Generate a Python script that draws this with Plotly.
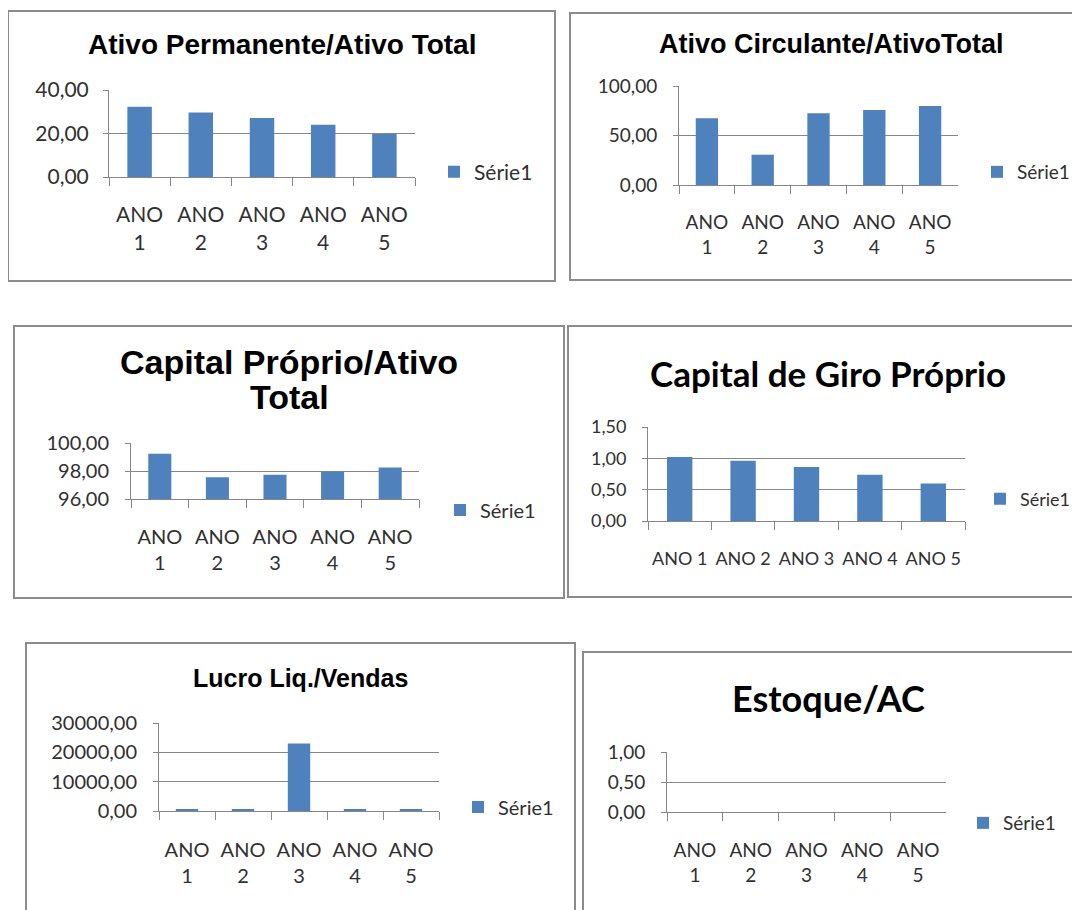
import plotly.graph_objects as go

W, H = 1080, 910
OFF = 8  # the page body margin places the figure 8px right and down

# ---------------- data ----------------
categorias = ["ANO 1", "ANO 2", "ANO 3", "ANO 4", "ANO 5"]
rotulos_duas_linhas = ["ANO<br>1", "ANO<br>2", "ANO<br>3", "ANO<br>4", "ANO<br>5"]
rotulos_uma_linha = ["ANO 1", "ANO 2", "ANO 3", "ANO 4", "ANO 5"]
serie_nome = "Série1"

ativo_permanente_total = [32.3, 29.7, 27.1, 24.0, 19.8]
ativo_circulante_total = [67.3, 30.6, 72.4, 75.8, 79.8]
capital_proprio_total = [99.24, 97.56, 97.73, 97.96, 98.25]
capital_giro_proprio = [1.02, 0.96, 0.86, 0.74, 0.60]
lucro_liq_vendas = [550, 550, 23000, 550, 550]
estoque_ac = [0, 0, 0, 0, 0]

titulos = ["Ativo Permanente/Ativo Total", "Ativo Circulante/AtivoTotal",
           ["Capital Próprio/Ativo", "Total"], "Capital de Giro Próprio",
           "Lucro Liq./Vendas", "Estoque/AC"]

# ---------------- layout of panels (pixels) ----------------
ARIAL = "Liberation Sans, Arial, sans-serif"
CALIBRI = "Lato, Carlito, Calibri, sans-serif"
BAR = "#4F81BD"
GRID = "#868686"
TXT = "#303030"

paineis = [
    dict(valores=ativo_permanente_total, titulo=titulos[0], tfont=ARIAL, tsize=28, ty=[45], tx=282,
         box=(8, 11, 555, 281), plot=(109, 90, 415, 177), rng=[0, 40], dtick=20,
         rot=rotulos_duas_linhas, fs=21, xstand=19, ystand=10, leg=(452, 172)),
    dict(valores=ativo_circulante_total, titulo=titulos[1], tfont=ARIAL, tsize=27, ty=[44], tx=831,
         box=(570, 13, 1090, 280), plot=(679, 86, 958, 185), rng=[0, 100], dtick=50,
         rot=rotulos_duas_linhas, fs=19, xstand=20, ystand=12, leg=(995, 172)),
    dict(valores=capital_proprio_total, titulo=titulos[2], tfont=ARIAL, tsize=34, ty=[362, 397], tx=289,
         box=(14, 326, 564, 598), plot=(131, 443, 419, 499), rng=[96, 100], dtick=2,
         rot=rotulos_duas_linhas, fs=20, xstand=20, ystand=12, leg=(458, 510)),
    dict(valores=capital_giro_proprio, titulo=titulos[3], tfont=CALIBRI, tsize=35, ty=[373], tx=828,
         box=(568, 326, 1090, 597), plot=(648, 427, 965, 521), rng=[0, 1.5], dtick=0.5,
         rot=rotulos_uma_linha, fs=18, xstand=21, ystand=12, leg=(998, 499)),
    dict(valores=lucro_liq_vendas, titulo=titulos[4], tfont=ARIAL, tsize=25, ty=[678], tx=300,
         box=(26, 643, 575, 930), plot=(159, 723, 439, 811), rng=[0, 30000], dtick=10000,
         rot=rotulos_duas_linhas, fs=20, xstand=21, ystand=12, leg=(476, 807)),
    dict(valores=estoque_ac, titulo=titulos[5], tfont=CALIBRI, tsize=36, ty=[698], tx=828,
         box=(583, 652, 1075, 930), plot=(667, 752, 946, 812), rng=[0, 1], dtick=0.5,
         rot=rotulos_duas_linhas, fs=19, xstand=21, ystand=12, leg=(981, 823)),
]


def px_x(v):
    return (v - OFF) / W


def px_y(v):
    return 1 - (v - OFF) / H


fig = go.Figure()
layout = dict(
    template="none",
    width=W, height=H, margin=dict(l=0, r=0, t=0, b=0, pad=0, autoexpand=False),
    paper_bgcolor="white", plot_bgcolor="white",
    separators=",.", bargap=0.6, showlegend=True,
    font=dict(family=CALIBRI, color=TXT),
)
shapes, annotations = [], []

for i, p in enumerate(paineis, start=1):
    sfx = "" if i == 1 else str(i)
    fig.add_trace(go.Bar(
        x=categorias, y=p["valores"], name=serie_nome,
        marker=dict(color=BAR, line=dict(width=0)),
        xaxis="x" + sfx, yaxis="y" + sfx,
        legend="legend" + sfx, showlegend=True,
        hovertemplate="%{x}: %{y:.2f}<extra></extra>",
    ))
    l, t, r, b = p["plot"]
    layout["xaxis" + sfx] = dict(
        domain=[px_x(l), px_x(r)], anchor="y" + sfx, type="category",
        tickvals=categorias, ticktext=p["rot"], tickson="boundaries",
        ticks="outside", ticklen=8, tickcolor=GRID, tickwidth=1, tickangle=0,
        showline=True, linecolor=GRID, linewidth=1, showgrid=False, zeroline=False,
        tickfont=dict(family=CALIBRI, size=p["fs"], color=TXT),
        ticklabelstandoff=p["xstand"], fixedrange=True, automargin=False,
    )
    layout["yaxis" + sfx] = dict(
        domain=[px_y(b), px_y(t)], anchor="x" + sfx,
        range=p["rng"], tick0=p["rng"][0], dtick=p["dtick"], tickformat=".2f",
        ticks="outside", ticklen=5, tickcolor=GRID, tickwidth=1,
        showline=True, linecolor=GRID, linewidth=1,
        showgrid=True, gridcolor=GRID, gridwidth=1, zeroline=False,
        tickfont=dict(family=CALIBRI, size=p["fs"], color=TXT),
        ticklabelstandoff=p["ystand"], fixedrange=True, automargin=False,
    )
    lx, ly = p["leg"]
    layout["legend" + sfx] = dict(
        x=px_x(lx - 18), y=px_y(ly), xanchor="left", yanchor="middle",
        xref="paper", yref="paper", bgcolor="rgba(0,0,0,0)", borderwidth=0,
        itemwidth=30, font=dict(family=CALIBRI, size=p["fs"], color=TXT),
    )
    x0, y0, x1, y1 = p["box"]
    shapes.append(dict(type="rect", xref="paper", yref="paper",
                       x0=px_x(x0), x1=px_x(x1), y0=px_y(y1), y1=px_y(y0),
                       line=dict(color="#8C8C8C", width=2), fillcolor="rgba(0,0,0,0)",
                       layer="below"))
    linhas = p["titulo"] if isinstance(p["titulo"], list) else [p["titulo"]]
    for txt, yy in zip(linhas, p["ty"]):
        annotations.append(dict(
            text=txt, x=px_x(p["tx"]), y=px_y(yy), xref="paper", yref="paper",
            xanchor="center", yanchor="middle", showarrow=False,
            font=dict(family=p["tfont"], size=p["tsize"], color="black", weight="bold"),
        ))

layout["shapes"] = shapes
layout["annotations"] = annotations
fig.update_layout(**layout)
fig.write_html("out.html")
